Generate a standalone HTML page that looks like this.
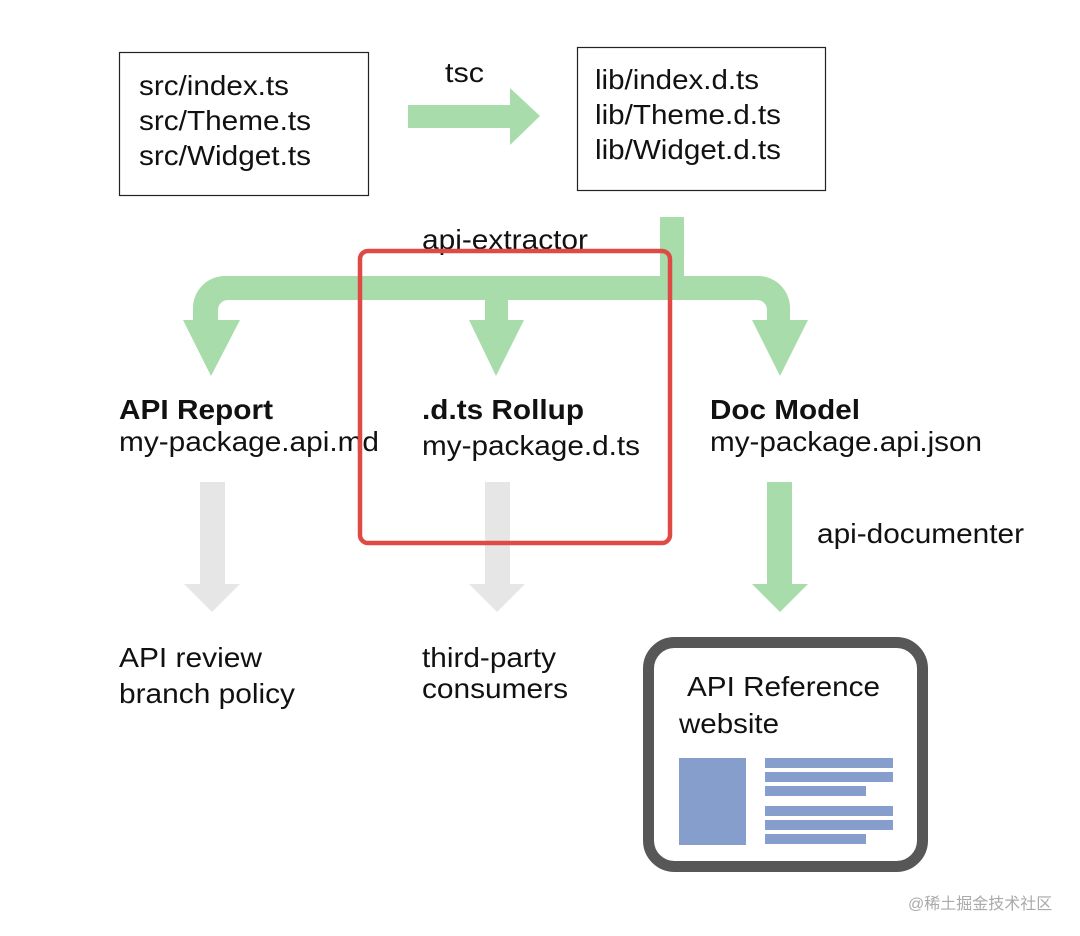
<!DOCTYPE html>
<html><head><meta charset="utf-8"><style>html,body{margin:0;padding:0;background:#fff}svg{display:block}</style></head>
<body>
<svg width="1080" height="936" viewBox="0 0 1080 936" xmlns="http://www.w3.org/2000/svg" font-family="Liberation Sans, Arial, sans-serif" font-size="28" fill="#111">
<rect x="0" y="0" width="1080" height="936" fill="#fff"/>
<g lengthAdjust="spacingAndGlyphs">
<rect x="119.5" y="52.5" width="249" height="143" fill="#fff" stroke="#222" stroke-width="1.2"/>
<text x="139" y="95" textLength="150" lengthAdjust="spacingAndGlyphs">src/index.ts</text>
<text x="139" y="130" textLength="172" lengthAdjust="spacingAndGlyphs">src/Theme.ts</text>
<text x="139" y="165" textLength="172" lengthAdjust="spacingAndGlyphs">src/Widget.ts</text>
<rect x="577.5" y="47.5" width="248" height="143" fill="#fff" stroke="#222" stroke-width="1.2"/>
<text x="595" y="89" textLength="164" lengthAdjust="spacingAndGlyphs">lib/index.d.ts</text>
<text x="595" y="124" textLength="186" lengthAdjust="spacingAndGlyphs">lib/Theme.d.ts</text>
<text x="595" y="159" textLength="186" lengthAdjust="spacingAndGlyphs">lib/Widget.d.ts</text>
<text x="445" y="82" textLength="39" lengthAdjust="spacingAndGlyphs">tsc</text>
</g>
<polygon points="408,105 510,105 510,88 540,116 510,145 510,128 408,128" fill="#a8dcab"/>
<g fill="#a8dcab">
<rect x="660" y="217" width="24" height="70"/>
<path d="M230,276 H758 A32,32 0 0 1 790,308 V322 H767 V310 A10,10 0 0 0 757,300 H228 A10,10 0 0 0 218,310 V322 H193 V308 A32,32 0 0 1 225,276 Z"/>
<rect x="485" y="290" width="23" height="32"/>
<polygon points="183,320 240,320 211,376"/>
<polygon points="469,320 524,320 496,376"/>
<polygon points="752,320 808,320 780,376"/>
<rect x="767" y="482" width="25" height="104"/>
<polygon points="752,584 808,584 780,612"/>
</g>
<text x="422" y="249" textLength="166" lengthAdjust="spacingAndGlyphs">api-extractor</text>
<g fill="#e6e6e6">
<rect x="200" y="482" width="25" height="104"/>
<polygon points="184,584 240,584 212,612"/>
<rect x="485" y="482" width="25" height="104"/>
<polygon points="469,584 525,584 497,612"/>
</g>
<text x="119" y="419" font-weight="bold" textLength="154" lengthAdjust="spacingAndGlyphs">API Report</text>
<text x="119" y="451" textLength="260" lengthAdjust="spacingAndGlyphs">my-package.api.md</text>
<text x="422" y="419" font-weight="bold" textLength="162" lengthAdjust="spacingAndGlyphs">.d.ts Rollup</text>
<text x="422" y="455" textLength="218" lengthAdjust="spacingAndGlyphs">my-package.d.ts</text>
<text x="710" y="419" font-weight="bold" textLength="150" lengthAdjust="spacingAndGlyphs">Doc Model</text>
<text x="710" y="451" textLength="272" lengthAdjust="spacingAndGlyphs">my-package.api.json</text>
<text x="817" y="543" textLength="207" lengthAdjust="spacingAndGlyphs">api-documenter</text>
<text x="119" y="667" textLength="143" lengthAdjust="spacingAndGlyphs">API review</text>
<text x="119" y="703" textLength="176" lengthAdjust="spacingAndGlyphs">branch policy</text>
<text x="422" y="667" textLength="134" lengthAdjust="spacingAndGlyphs">third-party</text>
<text x="422" y="698" textLength="146" lengthAdjust="spacingAndGlyphs">consumers</text>
<rect x="360" y="251" width="310" height="292" rx="8" fill="none" stroke="#e04a44" stroke-width="4.5"/>
<rect x="648.5" y="642.5" width="274" height="224" rx="26" fill="#fff" stroke="#575757" stroke-width="11"/>
<text x="687" y="696" textLength="193" lengthAdjust="spacingAndGlyphs">API Reference</text>
<text x="679" y="733" textLength="100" lengthAdjust="spacingAndGlyphs">website</text>
<g fill="#859ecb">
<rect x="679" y="758" width="67" height="87"/>
<rect x="765" y="758" width="128" height="10"/>
<rect x="765" y="772" width="128" height="10"/>
<rect x="765" y="786" width="101" height="10"/>
<rect x="765" y="806" width="128" height="10"/>
<rect x="765" y="820" width="128" height="10"/>
<rect x="765" y="834" width="101" height="10"/>
</g>
<text x="908" y="909" font-size="16" fill="#aaa" font-family="Liberation Sans, Noto Sans CJK SC, sans-serif">@稀土掘金技术社区</text>
</svg>
</body></html>
